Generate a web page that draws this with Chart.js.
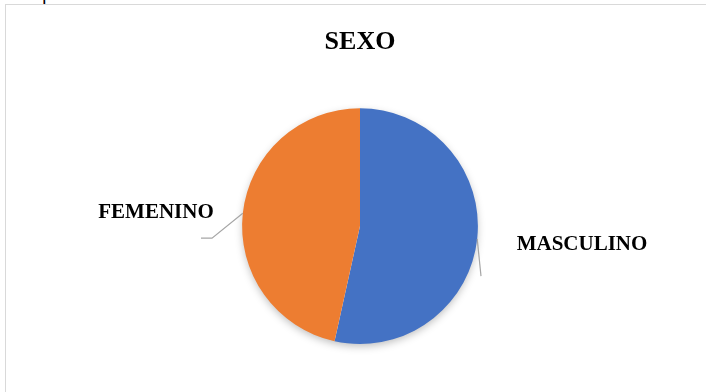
<!DOCTYPE html>
<html>
<head>
<meta charset="utf-8">
<script src="https://cdn.jsdelivr.net/npm/chart.js@4.4.1/dist/chart.umd.min.js"></script>
<style>
    html, body { margin: 0; padding: 0; background: #fff; }
    body { width: 706px; height: 392px; position: relative; overflow: hidden; }
    .frame {
        position: absolute; left: 5px; top: 4px; width: 720px; height: 400px;
        border: 1px solid #d9d9d9; box-sizing: border-box; background: #fff;
    }
    .cut {
        position: absolute; left: 42px; top: -18px;
        font: 20px "Liberation Serif", serif; color: #000;
    }
    #wrap { position: absolute; left: 0; top: 0; width: 706px; height: 392px; }
</style>
</head>
<body>
<div class="cut">p</div>
<div class="frame"></div>
<div id="wrap"><canvas id="pie-chart"></canvas></div>
<script>
document.addEventListener('DOMContentLoaded', () => {
    // Data
    const categories = ['MASCULINO', 'FEMENINO'];
    const values = [54, 47];
    const sliceColors = ['#4472C4', '#ED7D31'];

    // Label placement (relative to pie centre), like Excel's dragged labels
    const labelSpots = [
        { label: { dx: 222, dy: 18 }, leader: [{ dx: 121, dy: 50 }] },
        { label: { dx: -204, dy: -14 }, leader: [{ dx: -148, dy: 12 }, { dx: -159, dy: 12 }] }
    ];

    const pieShadow = {
        id: 'pieShadow',
        beforeDatasetsDraw(chart) {
            const arc = chart.getDatasetMeta(0).data[0];
            if (!arc) return;
            const c = chart.ctx;
            c.save();
            c.shadowColor = 'rgba(0,0,0,0.28)';
            c.shadowBlur = 9;
            c.shadowOffsetY = 3;
            c.fillStyle = '#fff';
            c.beginPath();
            c.arc(arc.x, arc.y, arc.outerRadius - 1, 0, Math.PI * 2);
            c.fill();
            c.restore();
        }
    };

    const outsideLabels = {
        id: 'outsideLabels',
        afterDatasetsDraw(chart) {
            const c = chart.ctx;
            const meta = chart.getDatasetMeta(0);
            meta.data.forEach((arc, i) => {
                const spot = labelSpots[i];
                const mid = (arc.startAngle + arc.endAngle) / 2;
                const sx = arc.x + Math.cos(mid) * arc.outerRadius;
                const sy = arc.y + Math.sin(mid) * arc.outerRadius;

                c.save();
                c.strokeStyle = '#a6a6a6';
                c.lineWidth = 1.2;
                c.beginPath();
                c.moveTo(sx, sy);
                spot.leader.forEach(p => c.lineTo(arc.x + p.dx, arc.y + p.dy));
                c.stroke();

                c.fillStyle = '#000';
                c.font = 'bold 21px "Liberation Serif", "Times New Roman", serif';
                c.textAlign = 'center';
                c.textBaseline = 'middle';
                c.fillText(categories[i], arc.x + spot.label.dx, arc.y + spot.label.dy);
                c.restore();
            });
        }
    };

    const ctx = document.getElementById('pie-chart').getContext('2d');
    new Chart(ctx, {
        type: 'pie',
        data: {
            labels: categories,
            datasets: [{
                data: values,
                backgroundColor: sliceColors,
                borderWidth: 0
            }]
        },
        options: {
            responsive: true,
            maintainAspectRatio: false,
            animation: false,
            layout: { padding: { left: 14, right: 0, top: 0, bottom: 48 } },
            plugins: {
                legend: { display: false },
                tooltip: { enabled: false },
                title: {
                    display: true,
                    text: 'SEXO',
                    color: '#000',
                    font: { family: '"Liberation Serif", "Times New Roman", serif', size: 26, weight: 'bold', lineHeight: 1.2 },
                    padding: { top: 27, bottom: 50 }
                }
            }
        },
        plugins: [pieShadow, outsideLabels]
    });
});
</script>
</body>
</html>
